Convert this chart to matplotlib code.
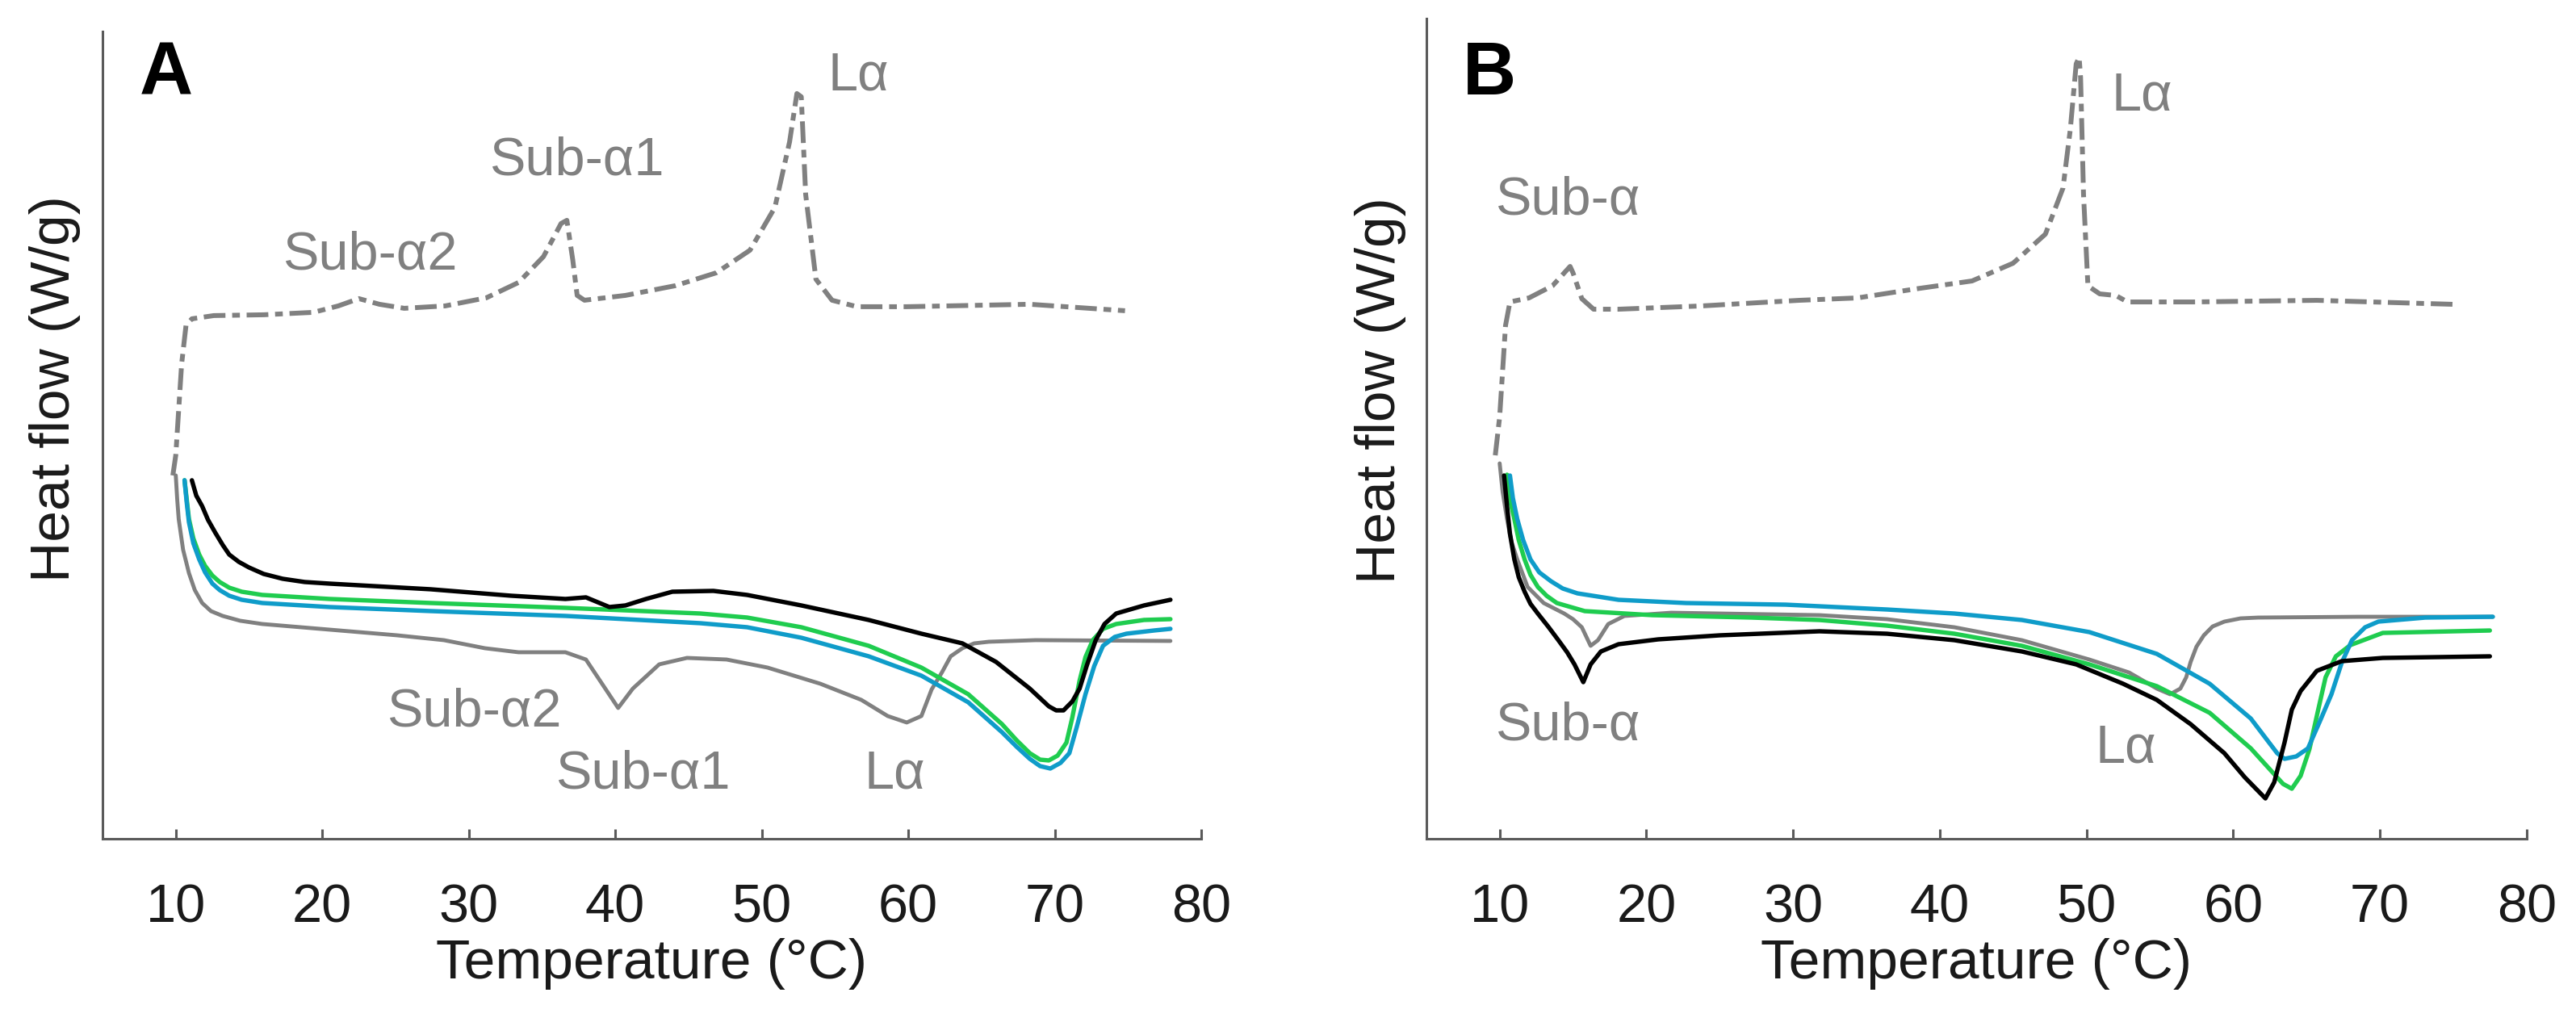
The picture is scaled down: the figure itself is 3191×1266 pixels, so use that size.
import matplotlib.pyplot as plt

plt.rcParams["font.family"] = ["Liberation Sans", "DejaVu Sans"]

# ---- Panel A ------------------------------------------------------------
# cooling run (dash-dot, grey) (arbitrary units)
a_cool_t = [9.8, 10.0, 10.4, 10.7, 11.1, 12.6, 16.0, 19.4, 21.1, 22.5, 23.9, 25.6,
            28.4, 31.2, 33.4, 35.1, 36.3, 36.7, 37.1, 37.4, 37.9, 40.7, 44.1, 46.9,
            49.2, 50.9, 51.9, 52.4, 52.7, 53.0, 53.7, 54.8, 56.5, 59.9, 68.3, 74.8]
a_cool_hf = [45.0, 47.5, 58.8, 63.6, 64.4, 64.8, 64.9, 65.2, 66.0, 66.9, 66.2, 65.7,
             66.0, 67.0, 68.9, 72.1, 76.2, 76.6, 71.7, 67.3, 66.7, 67.3, 68.5, 70.1,
             72.9, 78.2, 86.3, 92.3, 91.9, 79.8, 69.3, 66.7, 65.9, 65.9, 66.2, 65.4]

# heating runs
a_grey_t = [10.0, 10.1, 10.2, 10.5, 10.9, 11.3, 11.8, 12.4, 13.2, 14.4, 15.9, 20.5,
            25.1, 28.3, 31.1, 33.4, 36.6, 38.0, 39.1, 40.2, 41.2, 43.0, 44.9, 47.6,
            50.4, 54.0, 56.8, 58.6, 59.9, 60.9, 61.6, 62.3, 62.9, 63.7, 64.5, 65.5,
            68.7, 77.9]
a_grey_hf = [45.0, 42.0, 39.6, 35.8, 32.9, 30.8, 29.2, 28.2, 27.6, 27.0, 26.6, 25.9,
             25.2, 24.6, 23.6, 23.1, 23.1, 22.2, 19.2, 16.2, 18.6, 21.6, 22.4, 22.2,
             21.2, 19.2, 17.2, 15.2, 14.4, 15.2, 18.5, 20.6, 22.6, 23.6, 24.2, 24.4,
             24.6, 24.5]

a_black_t = [11.1, 11.4, 11.8, 12.2, 12.7, 13.2, 13.65, 14.3, 15.0, 16.0, 17.3, 18.8,
             20.5, 27.4, 32.9, 36.6, 38.0, 39.6, 40.7, 42.1, 43.9, 46.7, 49.0, 52.7,
             57.3, 60.9, 63.7, 66.0, 68.3, 69.6, 70.1, 70.6, 71.2, 71.7, 72.2, 72.8,
             73.4, 74.2, 76.1, 77.9]
a_black_hf = [44.4, 42.5, 41.2, 39.5, 37.9, 36.4, 35.2, 34.3, 33.6, 32.8, 32.2, 31.8,
              31.6, 30.9, 30.1, 29.7, 29.9, 28.7, 28.9, 29.7, 30.6, 30.7, 30.2, 28.9,
              27.1, 25.4, 24.2, 21.9, 18.6, 16.4, 15.9, 15.9, 17.0, 18.6, 21.5, 24.6,
              26.6, 27.9, 28.9, 29.6]

a_green_t = [10.6, 10.75, 10.9, 11.2, 11.6, 12.0, 12.5, 13.0, 13.65, 14.5, 15.9, 20.5,
             27.4, 36.6, 45.8, 49.0, 52.7, 57.3, 60.9, 64.1, 66.4, 67.4, 68.3, 69.0,
             69.6, 70.2, 70.8, 71.2, 71.7, 72.1, 72.6, 73.3, 74.2, 76.1, 77.9]
a_green_hf = [44.4, 42.0, 39.6, 37.2, 35.2, 33.8, 32.6, 31.8, 31.1, 30.6, 30.2, 29.7,
              29.2, 28.6, 27.9, 27.4, 26.2, 23.9, 21.2, 17.9, 14.2, 12.2, 10.6, 9.8,
              9.7, 10.3, 11.9, 15.0, 19.6, 22.5, 24.6, 26.0, 26.6, 27.1, 27.2]

a_blue_t = [10.6, 10.75, 10.9, 11.2, 11.6, 12.0, 12.5, 13.0, 13.65, 14.5, 15.9, 20.5,
            27.4, 36.6, 45.8, 49.0, 52.7, 57.3, 60.9, 64.1, 66.4, 67.4, 68.3, 69.0,
            69.7, 70.4, 71.0, 71.5, 72.1, 72.7, 73.3, 74.1, 74.9, 76.8, 77.9]
a_blue_hf = [44.4, 41.6, 39.2, 36.6, 34.6, 33.0, 31.6, 30.8, 30.1, 29.6, 29.2, 28.7,
             28.2, 27.6, 26.7, 26.2, 24.9, 22.6, 20.2, 16.9, 13.2, 11.4, 9.9, 9.0,
             8.7, 9.4, 10.6, 13.8, 17.9, 21.4, 23.9, 25.0, 25.4, 25.8, 26.0]

a_labels = ["Lα", "Sub-α1", "Sub-α2", "Sub-α2", "Sub-α1", "Lα"]
a_label_t = [54.5, 31.4, 17.3, 24.4, 35.9, 57.0]
a_label_hf = [92.7, 82.2, 70.5, 13.9, 6.2, 6.2]

# ---- Panel B ------------------------------------------------------------
b_cool_t = [9.7, 10.0, 10.4, 10.7, 12.0, 13.6, 14.8, 15.0, 15.6, 16.4, 18.1, 23.7,
            30.4, 34.4, 38.3, 42.2, 45.0, 47.2, 48.4, 48.9, 49.3, 49.5, 49.6, 49.8,
            50.1, 50.9, 52.0, 52.8, 57.3, 65.7, 75.1]
b_cool_hf = [47.5, 52.3, 63.6, 66.5, 67.0, 68.5, 70.9, 70.1, 66.9, 65.6, 65.6, 66.0,
             66.7, 67.0, 68.1, 69.1, 71.3, 74.9, 80.6, 87.9, 96.0, 96.8, 94.3, 79.8,
             68.5, 67.5, 67.3, 66.5, 66.5, 66.7, 66.2]

b_grey_t = [10.0, 10.2, 10.5, 10.8, 11.2, 11.9, 13.0, 14.4, 15.0, 15.6, 16.2, 16.7,
            17.4, 18.5, 21.7, 31.8, 36.4, 41.0, 45.6, 50.2, 52.9, 54.8, 55.7, 56.4,
            56.8, 57.1, 57.5, 58.0, 58.6, 59.4, 60.5, 61.7, 68.5, 77.7]
b_grey_hf = [46.5, 43.0, 39.6, 36.8, 34.6, 31.2, 29.2, 27.9, 27.2, 26.2, 23.9, 24.6,
             26.6, 27.6, 28.0, 27.7, 27.2, 26.2, 24.6, 22.2, 20.6, 18.6, 17.9, 18.6,
             20.0, 21.9, 23.8, 25.2, 26.3, 26.9, 27.3, 27.4, 27.5, 27.5]

b_black_t = [10.3, 10.5, 10.7, 11.0, 11.3, 11.7, 12.1, 12.6, 13.3, 14.0, 14.6, 15.1,
             15.7, 16.2, 16.9, 18.1, 20.8, 25.0, 31.8, 36.4, 41.0, 45.6, 49.3, 52.5,
             54.8, 57.1, 59.4, 60.8, 62.2, 62.8, 63.5, 64.0, 64.6, 65.7, 67.4, 70.2,
             77.5]
b_black_hf = [45.0, 41.2, 37.8, 34.6, 32.4, 30.6, 29.1, 27.9, 26.3, 24.6, 23.1, 21.6,
              19.4, 21.6, 23.2, 24.1, 24.7, 25.2, 25.7, 25.4, 24.6, 23.2, 21.6, 19.2,
              17.2, 14.2, 10.6, 7.6, 5.0, 7.0, 11.9, 16.0, 18.3, 20.8, 22.0, 22.4,
              22.6]

b_green_t = [10.5, 10.7, 11.0, 11.3, 11.7, 12.1, 12.6, 13.2, 13.9, 15.8, 20.4, 27.2,
             31.8, 36.4, 41.0, 45.6, 50.2, 54.8, 58.4, 61.2, 62.6, 63.4, 64.0, 64.6,
             65.2, 65.8, 66.3, 67.0, 68.0, 70.2, 77.5]
b_green_hf = [45.1, 42.0, 39.6, 37.0, 34.6, 32.7, 31.2, 30.1, 29.2, 28.2, 27.7, 27.4,
              27.1, 26.4, 25.4, 23.9, 21.6, 18.9, 15.6, 11.2, 8.4, 6.8, 6.2, 7.8,
              11.1, 16.0, 20.0, 22.6, 24.0, 25.5, 25.8]

b_blue_t = [10.7, 10.9, 11.2, 11.6, 12.1, 12.7, 13.5, 14.3, 15.3, 18.1, 22.7, 29.5,
            36.4, 41.0, 45.6, 50.2, 54.8, 58.4, 61.2, 63.0, 63.5, 64.3, 65.1, 65.9,
            66.7, 67.4, 68.1, 69.0, 69.9, 73.1, 77.7]
b_blue_hf = [45.0, 42.2, 39.6, 37.0, 34.6, 33.0, 31.9, 31.0, 30.4, 29.6, 29.2, 29.0,
             28.4, 27.9, 27.1, 25.6, 22.9, 19.2, 14.9, 10.6, 9.9, 10.2, 11.2, 14.5,
             17.9, 21.8, 24.6, 26.2, 26.9, 27.4, 27.5]

b_labels = ["Lα", "Sub-α", "Sub-α", "Lα"]
b_label_t = [51.7, 9.7, 9.7, 50.6]
b_label_hf = [90.3, 77.4, 12.3, 9.5]

xticks = [10, 20, 30, 40, 50, 60, 70, 80]

GREY = "#808080"
GREEN = "#1fcc4f"
BLUE = "#0f9cc9"


def draw_panel(ax, cool, grey, black, green, blue, labels, letter, ytop):
    ax.plot(cool[0], cool[1], color=GREY, lw=4.3,
            linestyle=(0, (4.5, 1.4, 1.6, 1.4)), dash_capstyle="butt",
            dash_joinstyle="round")
    for (t, hf), c, w in [(grey, GREY, 3.5), (green, GREEN, 3.9),
                          (blue, BLUE, 3.9), (black, "black", 3.9)]:
        ax.plot(t, hf, color=c, lw=w, solid_joinstyle="round", solid_capstyle="round")

    for txt, t, hf in zip(*labels):
        ax.text(t, hf, txt, fontsize=48, color=GREY, ha="left", va="baseline")
    ax.text(7.5, 92.2, letter, fontsize=66, fontweight="bold", ha="left", va="baseline")

    ax.set_xlim(5, 80)
    ax.set_ylim(0, ytop)
    ax.set_xticks(xticks)
    ax.set_yticks([])
    for s in ["top", "right"]:
        ax.spines[s].set_visible(False)
    for s in ["left", "bottom"]:
        ax.spines[s].set_linewidth(2.2)
        ax.spines[s].set_color("#5a5a5a")
    ax.tick_params(axis="x", direction="in", length=8.5, width=2.2, color="#5a5a5a",
                   pad=40, labelsize=48, labelcolor="#1a1a1a")
    ax.set_xlabel("Temperature (°C)", fontsize=50, color="#1a1a1a", labelpad=4)
    ax.set_ylabel("Heat flow (W/g)", fontsize=50, color="#1a1a1a")


fig = plt.figure(figsize=(31.91, 12.66), dpi=100)
ax_a = fig.add_axes([0.0398, 0.1793, 0.4265, 0.790])
ax_b = fig.add_axes([0.5537, 0.1793, 0.4271, 0.8025])

draw_panel(ax_a, (a_cool_t, a_cool_hf), (a_grey_t, a_grey_hf), (a_black_t, a_black_hf),
           (a_green_t, a_green_hf), (a_blue_t, a_blue_hf),
           (a_labels, a_label_t, a_label_hf), "A", 100)
draw_panel(ax_b, (b_cool_t, b_cool_hf), (b_grey_t, b_grey_hf), (b_black_t, b_black_hf),
           (b_green_t, b_green_hf), (b_blue_t, b_blue_hf),
           (b_labels, b_label_t, b_label_hf), "B", 101.6)

ax_a.yaxis.set_label_coords(-0.020, 0.557)
ax_b.yaxis.set_label_coords(-0.018, 0.547)

fig.savefig("out.png", dpi=100)
